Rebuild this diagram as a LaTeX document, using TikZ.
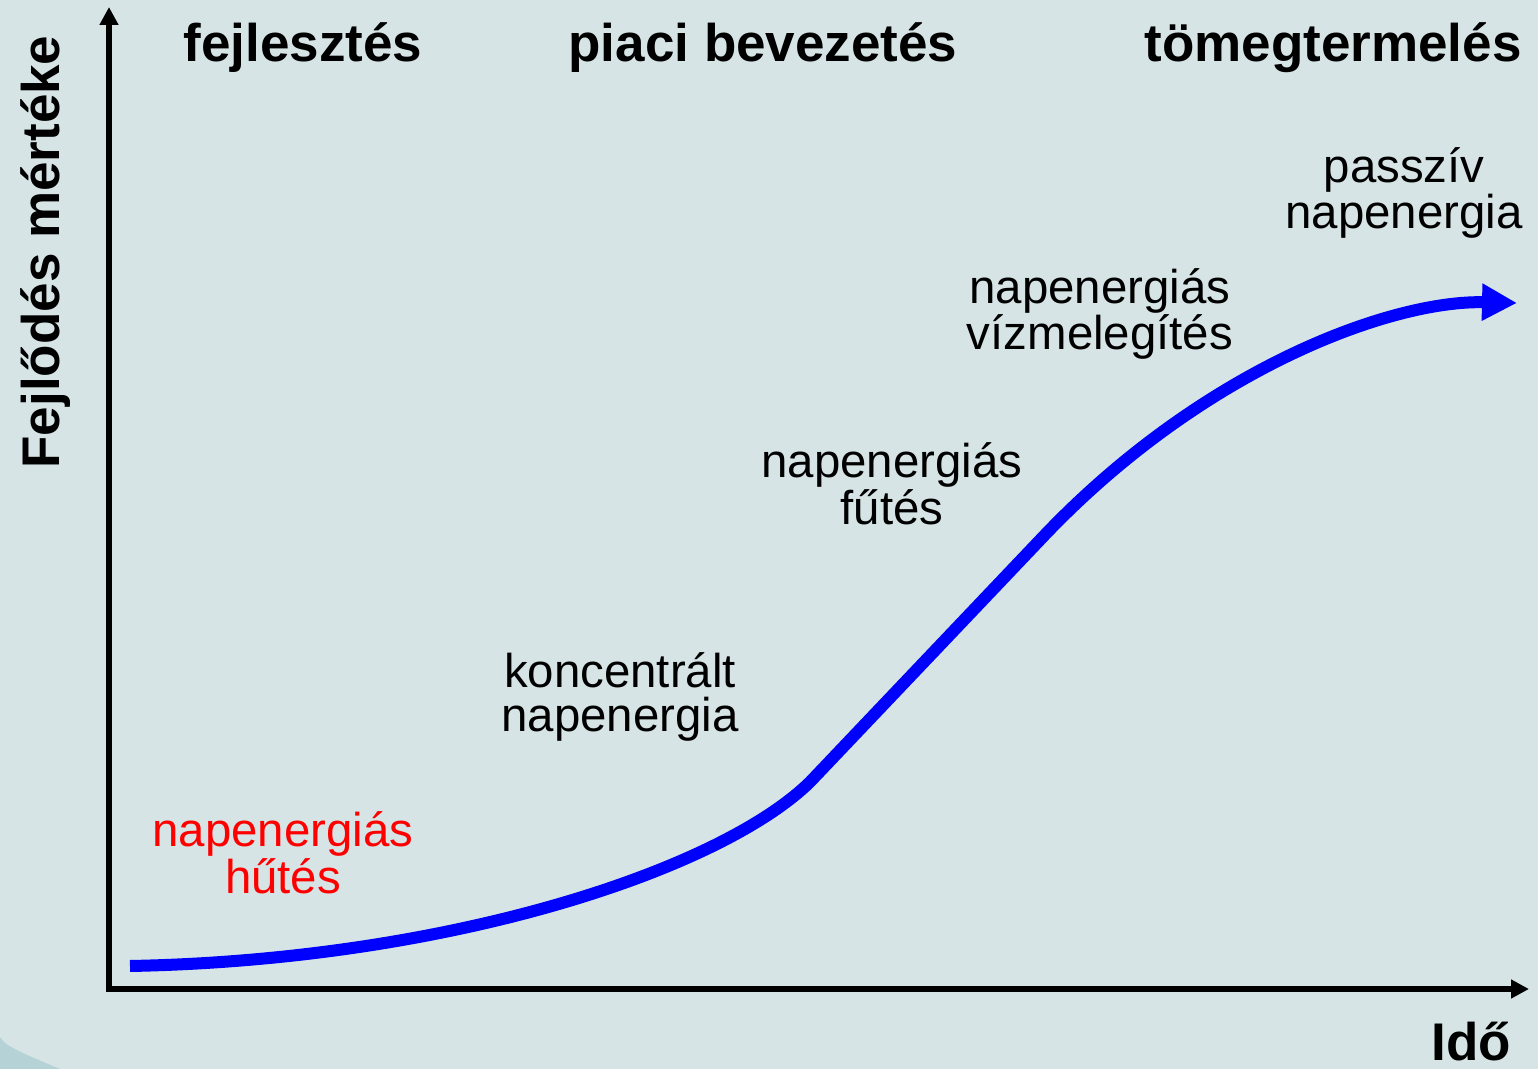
\documentclass[tikz,border=0pt]{standalone}
\usepackage{fontspec}
\setmainfont{Liberation Sans}
\usetikzlibrary{arrows.meta}
\definecolor{bgcol}{RGB}{214,228,229}
\definecolor{cornercol}{RGB}{181,211,214}
\definecolor{curveblue}{RGB}{0,0,255}
\definecolor{labelred}{RGB}{255,0,0}
\tikzset{
  phase/.style={font=\fontsize{26.5}{28}\selectfont\bfseries, inner sep=0pt},
  lbl/.style={font=\fontsize{23.7}{22}\selectfont, align=center, inner sep=0pt},
  axis/.style={line width=3pt, -{Triangle[length=9pt,width=9pt]}},
  growth/.style={line width=6pt, curveblue, -{Triangle[length=17.5pt,width=17.5pt]}}
}
\begin{document}
\begin{tikzpicture}[x=0.5pt,y=-0.5pt]
\useasboundingbox (0,0) rectangle (1538,1069);
\fill[bgcol] (0,0) rectangle (1538,1069);
\fill[cornercol] (0,1037) .. controls (5,1045) and (12,1049) .. (60,1069) -- (0,1069) -- cycle;

% axes
\coordinate (ytip) at (109,7);
\coordinate (xtip) at (1529,989);
\coordinate (ystart) at (109,992);
\coordinate (xstart) at (106,989);
\draw[axis] (ystart) -- (ytip);
\draw[axis] (xstart) -- (xtip);

% growth curve
\coordinate (c0) at (130,966);
\coordinate (c1) at (810,782);
\coordinate (c2) at (1040,540);
\coordinate (c3) at (1517,303);
\draw[growth] (c0) .. controls (450,960) and (720,870) .. (c1) -- (c2)
  .. controls (1200,370) and (1390,300) .. (c3);

% phase titles
\node[phase, anchor=base] (dev) at (303,62) {fejlesztés};
\node[phase, anchor=base] (mkt) at (763,62) {piaci bevezetés};
\node[phase, anchor=base east] (mass) at (1522,62) {tömegtermelés};

% axis labels
\node[phase, anchor=base, rotate=90] (ylab) at (59,252) {Fejlődés mértéke};
\node[phase, anchor=base] (xlab) at (1471,1060) {Idő};

% technology labels
\node[lbl, text=labelred] (cool) at (283,853) {napenergiás\\hűtés};
\node[lbl] (conc) at (620,697) {koncentrált\\napenergia};
\node[lbl] (heat) at (892,484) {napenergiás\\fűtés};
\node[lbl] (water) at (1100,314) {napenergiás\\vízmelegítés};
\node[lbl] (passive) at (1404,193) {passzív\\napenergia};
\end{tikzpicture}
\end{document}
